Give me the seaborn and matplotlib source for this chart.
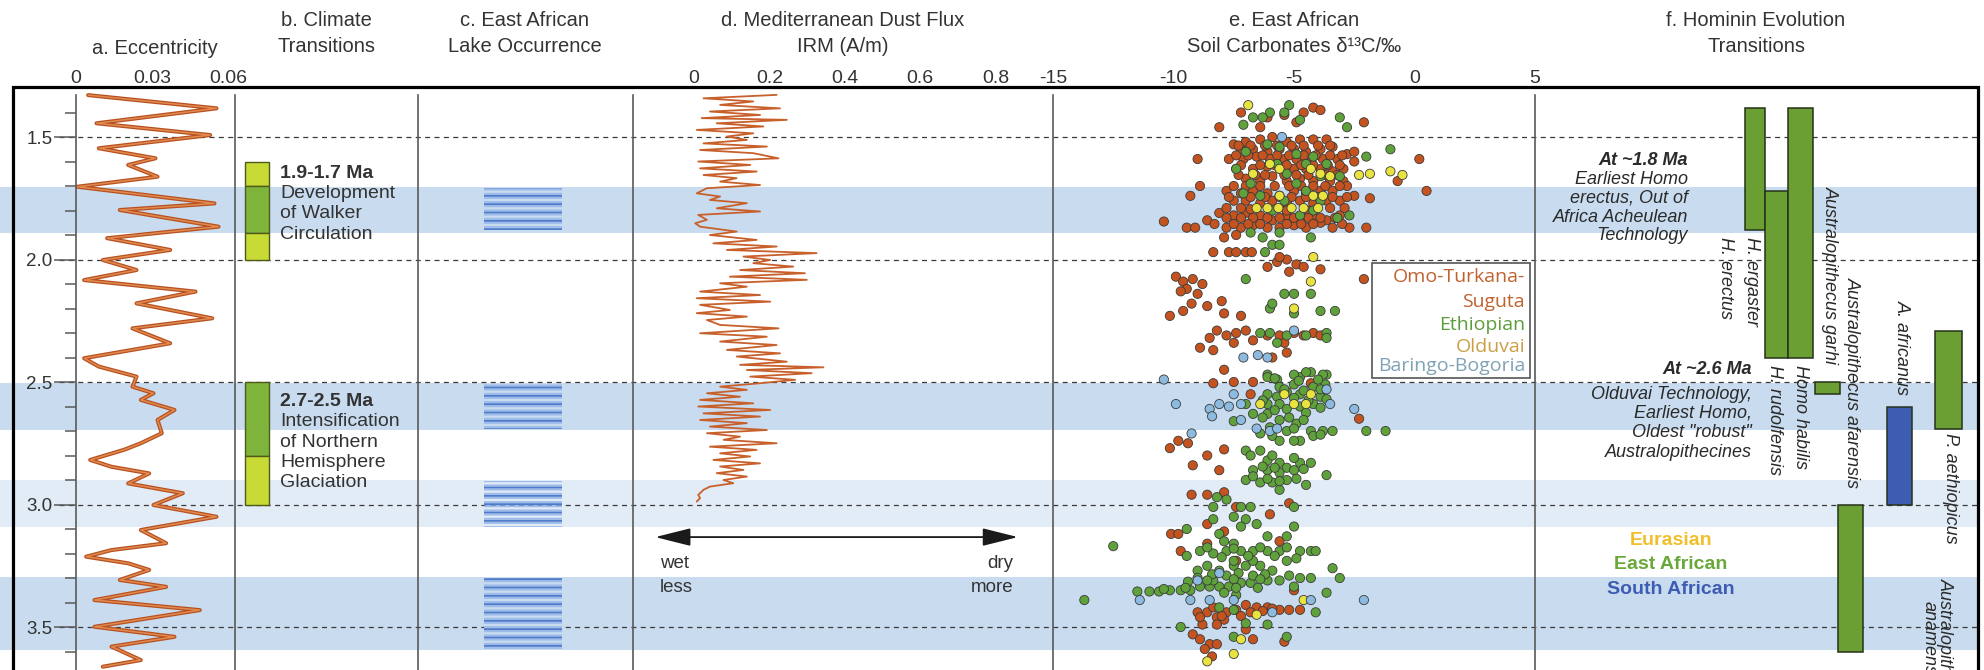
import numpy as np
import pandas as pd
import matplotlib
matplotlib.use("Agg")
import matplotlib.pyplot as plt
import matplotlib.patheffects as pe
import seaborn as sns
from matplotlib.patches import Rectangle
from matplotlib.ticker import MultipleLocator

# ---------------- data ----------------
ecc_age = [1.329, 1.383, 1.444, 1.492, 1.546, 1.587, 1.614, 1.662, 1.703, 1.771, 1.798, 1.866, 1.913,
           1.961, 2.002, 2.043, 2.084, 2.131, 2.179, 2.240, 2.281, 2.342, 2.403, 2.437, 2.478, 2.519,
           2.546, 2.573, 2.614, 2.655, 2.709, 2.750, 2.777, 2.818, 2.846, 2.873, 2.914, 2.954, 3.002,
           3.050, 3.104, 3.158, 3.186, 3.213, 3.240, 3.267, 3.308, 3.336, 3.390, 3.431, 3.499, 3.540,
           3.580, 3.635, 3.662]
ecc_value = [0.0048, 0.0555, 0.0081, 0.0530, 0.0090, 0.0314, 0.0206, 0.0322, 0.0005, 0.0547, 0.0173, 0.0563, 0.0123,
             0.0372, 0.0106, 0.0239, 0.0032, 0.0472, 0.0239, 0.0538, 0.0223, 0.0372, 0.0032, 0.0090, 0.0239, 0.0223,
             0.0306, 0.0256, 0.0389, 0.0322, 0.0339, 0.0256, 0.0189, 0.0056, 0.0140, 0.0289, 0.0206, 0.0422, 0.0306,
             0.0555, 0.0256, 0.0356, 0.0140, 0.0040, 0.0206, 0.0289, 0.0173, 0.0356, 0.0073, 0.0489, 0.0073, 0.0389,
             0.0140, 0.0256, 0.0106]

band_start = [1.704, 2.504, 2.900, 3.296]
band_end = [1.892, 2.696, 3.092, 3.594]
band_shade = ["strong", "strong", "weak", "strong"]
dashed_levels = [1.5, 2.0, 2.5, 3.0, 3.5]

climate_start = [1.60, 1.70, 1.89, 2.50, 2.80]
climate_end = [1.70, 1.89, 2.00, 2.80, 3.00]
climate_phase = ["onset", "peak", "onset", "peak", "onset"]
climate_titles = ["1.9-1.7 Ma", "2.7-2.5 Ma"]
climate_title_age = [1.647, 2.580]
climate_desc = [["Development", "of Walker", "Circulation"],
                ["Intensification", "of Northern", "Hemisphere", "Glaciation"]]

lake_start = [1.708, 2.510, 2.906, 3.300]
lake_end = [1.880, 2.690, 3.090, 3.594]

dust_age = [1.328, 1.342, 1.355, 1.369, 1.383, 1.396, 1.410, 1.423, 1.430, 1.444, 1.457, 1.471, 1.485, 1.498,
            1.512, 1.526, 1.539, 1.553, 1.566, 1.587, 1.600, 1.614, 1.628, 1.641, 1.655, 1.668, 1.682, 1.696,
            1.709, 1.730, 1.743, 1.757, 1.770, 1.791, 1.804, 1.818, 1.838, 1.852, 1.866, 1.886, 1.900, 1.920,
            1.934, 1.947, 1.961, 1.974, 1.988, 2.002, 2.015, 2.029, 2.043, 2.056, 2.070, 2.083, 2.097, 2.111,
            2.131, 2.145, 2.158, 2.172, 2.185, 2.206, 2.219, 2.233, 2.247, 2.267, 2.281, 2.301, 2.315, 2.335,
            2.349, 2.369, 2.383, 2.396, 2.417, 2.430, 2.440, 2.451, 2.464, 2.478, 2.491, 2.505, 2.519, 2.532,
            2.546, 2.560, 2.573, 2.587, 2.600, 2.614, 2.628, 2.641, 2.655, 2.668, 2.682, 2.696, 2.709, 2.723,
            2.736, 2.750, 2.764, 2.777, 2.791, 2.804, 2.818, 2.832, 2.845, 2.859, 2.872, 2.886, 2.900, 2.913,
            2.927, 2.940, 2.961, 2.974, 2.988]
dust_irm = [0.219, 0.025, 0.157, 0.069, 0.228, 0.042, 0.175, 0.020, 0.246, 0.060, 0.184, 0.007, 0.157, 0.087,
            0.140, 0.025, 0.193, 0.016, 0.157, 0.224, 0.011, 0.149, 0.016, 0.166, 0.025, 0.113, 0.069, 0.175,
            0.034, 0.007, 0.069, 0.042, 0.140, 0.060, 0.175, 0.011, 0.034, 0.003, 0.016, 0.113, 0.042, 0.166,
            0.051, 0.219, 0.087, 0.325, 0.131, 0.202, 0.157, 0.263, 0.122, 0.294, 0.095, 0.299, 0.069, 0.140,
            0.016, 0.175, 0.007, 0.202, 0.016, 0.095, 0.007, 0.140, 0.034, 0.069, 0.224, 0.016, 0.193, 0.069,
            0.219, 0.087, 0.228, 0.113, 0.246, 0.122, 0.343, 0.140, 0.312, 0.149, 0.268, 0.175, 0.069, 0.140,
            0.034, 0.122, 0.016, 0.157, 0.011, 0.202, 0.025, 0.175, 0.016, 0.140, 0.042, 0.193, 0.034, 0.122,
            0.078, 0.219, 0.042, 0.166, 0.069, 0.149, 0.051, 0.175, 0.069, 0.131, 0.060, 0.140, 0.078, 0.104,
            0.042, 0.025, 0.011, 0.016, 0.007]

# soil carbonate d13C (permil), age (Ma)
omo_pts = [(-7.2, 1.40), (-8.1, 1.46), (-4.9, 1.44), (-4.2, 1.38), (-3.9, 1.39), (-2.1, 1.44), (-6.1, 1.42),
           (-5.4, 1.41), (-4.6, 1.40), (-6.4, 1.46), (-7.5, 1.53), (-7.0, 1.52), (-6.4, 1.51), (-5.9, 1.50),
           (-5.3, 1.52), (-4.75, 1.51), (-4.2, 1.51), (-3.65, 1.51), (-7.2, 1.55), (-6.7, 1.55), (-6.1, 1.56),
           (-5.6, 1.55), (-5.0, 1.55), (-4.5, 1.56), (-3.9, 1.55), (-3.4, 1.54), (-7.7, 1.59), (-7.1, 1.59),
           (-6.55, 1.58), (-6.0, 1.59), (-5.4, 1.59), (-4.9, 1.59), (-4.3, 1.60), (-3.8, 1.59), (-3.2, 1.59),
           (-2.8, 1.57), (-2.5, 1.60), (-7.4, 1.63), (-6.7, 1.63), (-6.1, 1.62), (-5.6, 1.63), (-5.0, 1.63),
           (-4.5, 1.63), (-3.9, 1.63), (-3.4, 1.64), (-2.95, 1.63), (-7.0, 1.67), (-6.4, 1.68), (-5.9, 1.66),
           (-5.3, 1.68), (-4.75, 1.67), (-4.2, 1.68), (-3.5, 1.68), (-2.95, 1.68), (-9.0, 1.59), (0.2, 1.59),
           (-0.7, 1.68), (-2.5, 1.56), (-8.9, 1.70), (-9.3, 1.74), (-7.8, 1.72), (-7.2, 1.73), (-6.7, 1.72),
           (-6.1, 1.73), (-5.6, 1.74), (-5.0, 1.72), (-4.5, 1.73), (-3.9, 1.72), (-3.4, 1.72), (-2.8, 1.70),
           (-2.5, 1.74), (-1.85, 1.75), (0.5, 1.72), (-7.5, 1.76), (-7.0, 1.76), (-6.4, 1.77), (-5.9, 1.76),
           (-5.3, 1.77), (-4.75, 1.76), (-4.2, 1.77), (-3.65, 1.76), (-3.1, 1.76), (-8.1, 1.81), (-7.5, 1.82),
           (-7.0, 1.81), (-6.4, 1.82), (-5.9, 1.84), (-5.3, 1.82), (-4.75, 1.84), (-4.2, 1.82), (-3.65, 1.84),
           (-3.1, 1.82), (-10.4, 1.845), (-9.45, 1.87), (-9.1, 1.87), (-8.6, 1.84), (-7.8, 1.87), (-7.2, 1.87),
           (-6.7, 1.86), (-6.1, 1.87), (-5.6, 1.87), (-5.0, 1.86), (-4.5, 1.87), (-3.9, 1.85), (-3.4, 1.87),
           (-2.7, 1.87), (-2.0, 1.87), (-7.9, 1.91), (-7.4, 1.90), (-8.35, 1.97), (-7.7, 1.97), (-7.4, 1.97),
           (-7.0, 1.97), (-6.75, 1.97), (-6.1, 2.03), (-5.7, 2.01), (-5.3, 2.00), (-4.9, 2.02), (-5.2, 2.05),
           (-4.6, 2.03), (-3.9, 2.04), (-5.6, 1.99), (-2.1, 2.08), (-9.9, 2.07), (-9.6, 2.09), (-9.2, 2.08),
           (-8.8, 2.10), (-9.45, 2.12), (-9.0, 2.14), (-9.7, 2.13), (-10.15, 2.23), (-9.25, 2.18), (-8.6, 2.19),
           (-8.0, 2.17), (-9.6, 2.21), (-7.2, 2.23), (-7.9, 2.22), (-8.9, 2.36), (-8.5, 2.32), (-8.2, 2.29),
           (-7.8, 2.31), (-7.4, 2.30), (-7.0, 2.29), (-6.7, 2.33), (-7.5, 2.34), (-5.6, 2.31), (-5.0, 2.30),
           (-4.6, 2.31), (-4.2, 2.30), (-3.9, 2.31), (-5.4, 2.34), (-8.35, 2.37), (-7.9, 2.45), (-5.3, 2.38),
           (-5.9, 2.40), (-6.1, 2.31), (-8.35, 2.505), (-7.5, 2.50), (-6.7, 2.50), (-6.8, 2.55), (-4.3, 2.505),
           (-2.3, 2.65), (-10.15, 2.77), (-9.8, 2.74), (-9.4, 2.75), (-7.9, 2.775), (-8.6, 2.80), (-9.2, 2.84),
           (-8.1, 2.86), (-9.25, 2.96), (-8.6, 2.96), (-7.9, 2.95), (-5.2, 2.995), (-7.4, 3.01), (-6.0, 3.04),
           (-10.1, 3.12), (-9.8, 3.12), (-8.6, 3.08), (-7.9, 3.11), (-5.6, 3.15), (-9.7, 3.19), (-8.6, 3.16),
           (-5.0, 3.35), (-9.0, 3.44), (-8.6, 3.44), (-8.2, 3.46), (-7.8, 3.44), (-7.4, 3.43), (-8.35, 3.42),
           (-7.0, 3.41), (-6.55, 3.42), (-6.1, 3.42), (-5.6, 3.43), (-5.2, 3.43), (-4.75, 3.43), (-7.9, 3.47),
           (-8.8, 3.49), (-8.2, 3.49), (-9.2, 3.53), (-8.9, 3.55), (-8.5, 3.57), (-8.2, 3.57), (-5.4, 3.56),
           (-6.7, 3.55), (-8.7, 3.59), (-8.4, 3.62), (-7.0, 3.51), (-7.4, 3.23),
           (-7.3, 1.535), (-6.8, 1.535), (-6.2, 1.535), (-5.7, 1.535), (-5.1, 1.535), (-4.6, 1.535), (-4.0, 1.535),
           (-3.5, 1.535), (-7.4, 1.575), (-6.9, 1.575), (-6.3, 1.575), (-5.7, 1.575), (-5.2, 1.575), (-4.6, 1.575),
           (-4.1, 1.575), (-3.5, 1.575), (-3.0, 1.575), (-7.2, 1.615), (-6.4, 1.615), (-5.8, 1.615), (-5.3, 1.615),
           (-4.7, 1.615), (-4.2, 1.615), (-3.6, 1.615), (-3.1, 1.615), (-7.3, 1.655), (-6.6, 1.655), (-6.2, 1.655),
           (-5.4, 1.655), (-4.9, 1.655), (-4.4, 1.655), (-3.7, 1.655), (-3.2, 1.655), (-7.5, 1.70), (-7.0, 1.70),
           (-6.4, 1.70), (-5.8, 1.70), (-5.2, 1.70), (-4.7, 1.70), (-4.2, 1.70), (-3.7, 1.70), (-3.1, 1.70),
           (-7.7, 1.745), (-6.8, 1.745), (-6.2, 1.745), (-5.6, 1.745), (-5.1, 1.745), (-4.5, 1.745), (-4.0, 1.745),
           (-3.4, 1.745), (-2.8, 1.745), (-7.8, 1.79), (-7.2, 1.79), (-6.8, 1.795), (-5.3, 1.80), (-4.4, 1.80),
           (-3.5, 1.79), (-2.9, 1.79), (-7.8, 1.83), (-7.2, 1.83), (-6.7, 1.83), (-6.1, 1.83), (-5.6, 1.83),
           (-5.0, 1.83), (-4.4, 1.83), (-3.9, 1.83), (-3.3, 1.83), (-8.3, 1.855), (-7.5, 1.855), (-6.9, 1.855),
           (-6.4, 1.855), (-5.3, 1.855), (-4.7, 1.855), (-4.2, 1.855), (-3.0, 1.855),
           (-8.9, 3.46), (-8.0, 3.455), (-7.2, 3.455), (-6.8, 3.44), (-6.3, 3.435), (-5.9, 3.425)]
eth_pts = [(-6.0, 1.40), (-5.2, 1.37), (-2.8, 1.46), (-3.1, 1.42), (-7.1, 1.45), (-6.3, 1.42), (-5.4, 1.40),
           (-6.7, 1.42), (-4.75, 1.43), (-7.0, 1.56), (-5.6, 1.54), (-4.9, 1.57), (-4.2, 1.58), (-6.1, 1.53),
           (-7.4, 1.63), (-5.3, 1.65), (-4.5, 1.61), (-3.65, 1.61), (-3.1, 1.66), (-2.0, 1.58), (-1.0, 1.55),
           (-6.8, 1.69), (-4.9, 1.69), (-5.7, 1.61), (-3.9, 1.66), (-7.1, 1.73), (-6.4, 1.74), (-5.4, 1.76),
           (-4.5, 1.72), (-3.9, 1.76), (-5.9, 1.80), (-4.75, 1.82), (-4.2, 1.80), (-3.2, 1.83), (-2.7, 1.82),
           (-5.6, 1.89), (-6.3, 1.91), (-6.8, 1.89), (-4.3, 1.91), (-5.9, 1.94), (-5.6, 1.94), (-6.2, 1.97),
           (-7.0, 2.08), (-5.4, 2.14), (-5.0, 2.14), (-4.3, 2.14), (-6.0, 2.20), (-5.0, 2.22), (-3.9, 2.21),
           (-3.3, 2.21), (-5.9, 2.18), (-6.4, 2.30), (-6.0, 2.30), (-5.7, 2.34), (-5.3, 2.31), (-4.5, 2.31),
           (-3.65, 2.30), (-3.65, 2.32), (-6.1, 2.47), (-4.75, 2.48), (-4.3, 2.46), (-3.65, 2.47),
           (-6.1, 2.48), (-5.7, 2.49), (-5.0, 2.47), (-4.5, 2.46), (-3.8, 2.47), (-5.6, 2.52), (-5.0, 2.51),
           (-4.2, 2.52), (-3.7, 2.51), (-6.1, 2.55), (-5.7, 2.56), (-5.3, 2.54), (-4.75, 2.55), (-3.9, 2.56),
           (-7.0, 2.59), (-6.1, 2.59), (-5.6, 2.59), (-5.3, 2.61), (-4.75, 2.60), (-4.2, 2.59), (-3.65, 2.57),
           (-6.7, 2.63), (-6.1, 2.63), (-5.6, 2.655), (-4.9, 2.67), (-4.3, 2.70), (-7.5, 2.66), (-6.4, 2.71),
           (-5.9, 2.72), (-5.3, 2.70), (-4.75, 2.74), (-4.2, 2.72), (-3.8, 2.70), (-3.4, 2.70), (-2.0, 2.70),
           (-1.2, 2.70), (-5.6, 2.74), (-5.0, 2.74), (-7.0, 2.78), (-6.4, 2.78), (-6.1, 2.82), (-5.6, 2.83),
           (-5.3, 2.85), (-4.75, 2.83), (-4.3, 2.83), (-6.7, 2.86), (-6.1, 2.86), (-5.6, 2.87), (-5.0, 2.86),
           (-7.0, 2.90), (-6.4, 2.91), (-5.9, 2.91), (-5.3, 2.90), (-4.5, 2.92), (-3.65, 2.88), (-5.6, 2.94),
           (-8.2, 2.97), (-7.8, 2.98), (-8.35, 3.01), (-7.2, 3.01), (-6.8, 3.01), (-5.0, 3.01), (-7.5, 3.05),
           (-7.0, 3.06), (-6.55, 3.08), (-8.35, 3.06), (-9.45, 3.10), (-8.1, 3.12), (-7.2, 3.09), (-5.0, 3.09),
           (-5.3, 3.13), (-6.1, 3.13), (-12.5, 3.17), (-9.45, 3.21), (-8.9, 3.19), (-8.35, 3.20), (-7.8, 3.19),
           (-7.2, 3.19), (-6.7, 3.19), (-6.1, 3.19), (-5.6, 3.19), (-4.75, 3.19), (-4.3, 3.19), (-4.1, 3.19),
           (-7.9, 3.15), (-7.5, 3.16), (-9.0, 3.27), (-8.6, 3.25), (-8.1, 3.27), (-7.5, 3.25), (-7.0, 3.25),
           (-6.4, 3.25), (-5.9, 3.27), (-5.3, 3.23), (-4.75, 3.30), (-4.3, 3.30), (-3.4, 3.26), (-3.1, 3.30),
           (-7.5, 3.23), (-6.7, 3.23), (-11.5, 3.355), (-11.0, 3.355), (-10.6, 3.355), (-10.15, 3.35),
           (-9.7, 3.35), (-9.3, 3.35), (-8.9, 3.335), (-8.5, 3.335), (-8.1, 3.335), (-7.7, 3.335), (-7.2, 3.32),
           (-6.8, 3.32), (-8.35, 3.31), (-7.8, 3.29), (-9.0, 3.30), (-6.7, 3.29), (-6.1, 3.31), (-5.6, 3.31),
           (-5.0, 3.335), (-13.7, 3.39), (-3.65, 3.36), (-4.1, 3.44), (-7.9, 3.36), (-7.4, 3.37), (-9.7, 3.50),
           (-6.1, 3.49), (-5.3, 3.54), (-7.5, 3.54), (-7.0, 3.485), (-8.1, 3.42), (-7.5, 3.43),
           (-5.8, 2.485), (-4.8, 2.495), (-4.0, 2.49), (-5.4, 2.53), (-4.6, 2.535), (-3.9, 2.53), (-6.3, 2.575),
           (-5.0, 2.565), (-4.4, 2.575), (-5.8, 2.615), (-4.5, 2.625), (-3.9, 2.605), (-6.3, 2.645), (-5.2, 2.645),
           (-4.6, 2.655), (-6.0, 2.685), (-5.0, 2.69), (-3.9, 2.715), (-6.8, 2.80), (-5.9, 2.80), (-5.0, 2.81),
           (-6.3, 2.845), (-5.8, 2.85), (-4.6, 2.855), (-6.7, 2.885), (-6.1, 2.895), (-5.6, 2.905), (-4.9, 2.895),
           (-8.6, 3.175), (-7.5, 3.18), (-6.4, 3.175), (-5.3, 3.175), (-8.0, 3.215), (-6.9, 3.21), (-5.8, 3.21),
           (-4.9, 3.22), (-8.4, 3.285), (-7.3, 3.28), (-6.2, 3.285), (-5.2, 3.29), (-9.4, 3.315), (-8.6, 3.31),
           (-7.5, 3.305), (-6.4, 3.305), (-10.4, 3.345), (-9.5, 3.34), (-7.4, 3.34), (-6.5, 3.34)]
old_pts = [(-6.9, 1.37), (-6.0, 1.61), (-5.6, 1.63), (-4.3, 1.63), (-3.9, 1.65), (-6.7, 1.65), (-3.5, 1.66),
           (-2.3, 1.655), (-1.85, 1.65), (-1.0, 1.64), (-0.5, 1.655), (-5.6, 1.74), (-4.2, 1.74), (-3.8, 1.74),
           (-6.55, 1.79), (-6.1, 1.79), (-5.65, 1.79), (-5.1, 1.79), (-4.6, 1.79), (-4.0, 1.79), (-4.2, 1.99),
           (-4.3, 2.09), (-5.0, 2.20), (-5.4, 2.55), (-4.3, 2.55), (-6.4, 2.59), (-5.0, 2.59), (-4.5, 2.59),
           (-4.6, 3.39), (-6.55, 3.45), (-7.2, 3.55), (-7.5, 3.61), (-8.6, 3.64)]
bar_pts = [(-5.5, 1.50), (-5.0, 2.29), (-7.1, 2.40), (-6.5, 2.39), (-6.1, 2.40), (-10.4, 2.49), (-9.9, 2.59),
           (-8.5, 2.61), (-8.1, 2.59), (-7.7, 2.60), (-7.2, 2.59), (-8.4, 2.64), (-7.5, 2.55), (-7.2, 2.655),
           (-6.55, 2.69), (-6.0, 2.70), (-5.7, 2.69), (-3.5, 2.59), (-3.65, 2.53), (-2.5, 2.61), (-9.25, 2.71),
           (-9.0, 3.31), (-8.1, 3.28), (-9.3, 3.39), (-11.4, 3.39), (-7.5, 3.39), (-5.9, 3.44), (-4.3, 3.39),
           (-2.1, 3.39), (-8.5, 3.39)]
basin_names = ["Omo-Turkana-Suguta", "Ethiopian", "Olduvai", "Baringo-Bogoria"]

hominin_species = ["H. ergaster", "H. rudolfensis", "Homo habilis", "Australopithecus garhi",
                   "Australopithecus afarensis", "A. africanus", "P. aethiopicus"]
hominin_first = [1.38, 1.72, 1.38, 2.50, 3.00, 2.60, 2.29]
hominin_last = [1.88, 2.40, 2.40, 2.55, 3.60, 3.00, 2.69]
hominin_region = ["East African", "East African", "East African", "East African",
                  "East African", "South African", "East African"]

# ---------------- layout / style ----------------
FW, FH, TOP = 1984, 670, 87
AGE_TOP, AGE_BOT = 1.2959, 3.6755
C_TXT = "#333333"
C_SEP = "#5a5a5a"
C_CURVE = "#c8602c"

sns.set_style("white")
plt.rcParams["font.family"] = ["Liberation Sans", "DejaVu Sans"]
plt.rcParams["hatch.linewidth"] = 1.4

fig = plt.figure(figsize=(FW / 100, FH / 100), dpi=100)


def panel(x0, x1):
    ax = fig.add_axes([x0 / FW, 0, (x1 - x0) / FW, (FH - TOP) / FH])
    ax.set_facecolor("none")
    ax.set_ylim(AGE_BOT, AGE_TOP)
    for s in ["top", "right", "bottom"]:
        ax.spines[s].set_visible(False)
    ax.spines["left"].set_color(C_SEP)
    ax.spines["left"].set_linewidth(1.2)
    ax.spines["left"].set_bounds(1.33, AGE_BOT)
    ax.set_yticks([])
    ax.set_xlabel("")
    ax.set_ylabel("")
    return ax


def top_ticks(ax, ticks, labels):
    ax.set_xticks(ticks)
    ax.set_xticklabels(labels)
    ax.tick_params(axis="x", top=True, bottom=False, labeltop=True, labelbottom=False,
                   length=0, pad=0, labelsize=14, labelcolor=C_TXT)


# background bands and dashed lines
bg = fig.add_axes([0, 0, 1978 / FW, (FH - TOP) / FH])
bg.set_xlim(0, 1978)
bg.set_ylim(AGE_BOT, AGE_TOP)
bg.axis("off")
shade_col = {"strong": "#c9dcef", "weak": "#e2ecf7"}
for s, e, sh in zip(band_start, band_end, band_shade):
    bg.axhspan(s, e, color=shade_col[sh], lw=0, zorder=0)
bg.hlines(dashed_levels, 59, 1978, colors="#3a3a3a", linestyles=(0, (4, 3.5)), lw=0.9, zorder=1)

# a. eccentricity
ax_a = panel(76, 235)
sns.lineplot(x=ecc_value, y=ecc_age, sort=False, estimator=None, color="#e08a50", lw=1.1, ax=ax_a)
for ln in ax_a.lines:
    ln.set_path_effects([pe.Stroke(linewidth=2.9, foreground="#b8501f"), pe.Normal()])
    ln.set_solid_joinstyle("round")
ax_a.set_xlim(0, 0.0628)
ax_a.set_ylim(AGE_BOT, AGE_TOP)
ax_a.set_yticks(dashed_levels)
ax_a.set_yticklabels([f"{v:.1f}" for v in dashed_levels])
ax_a.yaxis.set_minor_locator(MultipleLocator(0.1))
ax_a.tick_params(axis="y", which="major", left=True, length=16, width=1.1, color=C_SEP,
                 labelsize=13.5, labelcolor=C_TXT, pad=1)
ax_a.tick_params(axis="y", which="minor", left=True, length=8, width=1.1, color=C_SEP)
top_ticks(ax_a, [0, 0.03, 0.06], ["0", "0.03", "0.06"])
ax_a.set_xlabel("")
ax_a.set_ylabel("")

# b. climate transitions
ax_b = panel(235, 418)
ax_b.set_xlim(0, 1)
ax_b.set_xticks([])
phase_col = {"peak": "#7eb43c", "onset": "#c8da36"}
ax_b.bar([0.12] * len(climate_start), np.array(climate_end) - np.array(climate_start),
         bottom=climate_start, width=0.131, color=[phase_col[p] for p in climate_phase],
         edgecolor="#4d5a1c", lw=1.0, zorder=3)
for t, ya, lines in zip(climate_titles, climate_title_age, climate_desc):
    ax_b.text(0.246, ya, t, fontsize=14, fontweight="bold", color=C_TXT, va="center", ha="left")
    for i, ln in enumerate(lines):
        ax_b.text(0.246, ya + (i + 1) * 0.083, ln, fontsize=14, color=C_TXT, va="center", ha="left")

# c. lake occurrence (striped blocks)
ax_c = panel(418, 633)
ax_c.set_xlim(0, 1)
ax_c.set_xticks([])
lake_h = np.array(lake_end) - np.array(lake_start)
ax_c.bar([0.488] * len(lake_start), lake_h, bottom=lake_start, width=0.363, color="none",
         edgecolor="#9dbcea", hatch="----", lw=0, zorder=3)
ax_c.bar([0.488] * len(lake_start), lake_h, bottom=lake_start, width=0.363, color="none",
         edgecolor="#4f7cca", hatch="--", lw=0, zorder=4)

# d. dust flux
ax_d = panel(633, 1053)
sns.lineplot(x=dust_irm, y=dust_age, sort=False, estimator=None, color=C_CURVE, lw=1.3, ax=ax_d)
ax_d.set_xlim(-0.162, 0.952)
ax_d.set_ylim(AGE_BOT, AGE_TOP)
top_ticks(ax_d, [0, 0.2, 0.4, 0.6, 0.8], ["0", "0.2", "0.4", "0.6", "0.8"])
ax_d.set_xlabel("")
ax_d.set_ylabel("")
ax_d.annotate("", xy=(0.859, 3.133), xytext=(-0.103, 3.133),
              arrowprops=dict(arrowstyle="<|-|>,head_length=2.2,head_width=0.55", color="#1a1a1a",
                              lw=1.3, shrinkA=0, shrinkB=0))
ax_d.text(-0.09, 3.24, "wet", fontsize=13.5, color=C_TXT, ha="left", va="center")
ax_d.text(-0.09, 3.337, "less", fontsize=13.5, color=C_TXT, ha="left", va="center")
ax_d.text(0.846, 3.24, "dry", fontsize=13.5, color=C_TXT, ha="right", va="center")
ax_d.text(0.846, 3.337, "more", fontsize=13.5, color=C_TXT, ha="right", va="center")

# e. soil carbonates
ax_e = panel(1053, 1535)
rows = []
for name, pts in zip(basin_names, [omo_pts, eth_pts, old_pts, bar_pts]):
    for d, a in pts:
        rows.append((d, a, name))
carb = pd.DataFrame(rows, columns=["d13C", "age", "basin"])
basin_col = {"Omo-Turkana-Suguta": "#c4531f", "Ethiopian": "#5fa23b",
             "Olduvai": "#e8e33f", "Baringo-Bogoria": "#8dbbe0"}
sns.scatterplot(data=carb, x="d13C", y="age", hue="basin", palette=basin_col, s=44,
                edgecolor="#3a3a3a", linewidth=0.6, legend=False, ax=ax_e, zorder=3)
ax_e.set_xlim(-15, 5)
ax_e.set_ylim(AGE_BOT, AGE_TOP)
top_ticks(ax_e, [-15, -10, -5, 0, 5], ["-15", "-10", "-5", "0", "5"])
ax_e.set_xlabel("")
ax_e.set_ylabel("")
ax_e.add_patch(Rectangle((-1.76, 2.014), 6.55, 0.47, fill=False, edgecolor="#555555", lw=1.2, zorder=4))
legend_txt_col = {"Omo-Turkana-Suguta": "#c0622e", "Ethiopian": "#5d9d3c",
                  "Olduvai": "#c9a046", "Baringo-Bogoria": "#7fa2b6"}
leg_lines = [("Omo-Turkana-", "Omo-Turkana-Suguta", 2.071), ("Suguta", "Omo-Turkana-Suguta", 2.173),
             ("Ethiopian", "Ethiopian", 2.267), ("Olduvai", "Olduvai", 2.357),
             ("Baringo-Bogoria", "Baringo-Bogoria", 2.435)]
for txt, key, ya in leg_lines:
    ax_e.text(4.59, ya, txt, fontsize=14, color=legend_txt_col[key], ha="right", va="center",
              family=["Open Sans", "DejaVu Sans"], zorder=5)

# f. hominin evolution
ax_f = panel(1535, 1978)
ax_f.set_xlim(0, 18.3)
ax_f.set_xticks([])
lane_x = [9.09, 9.98, 10.97, 12.09, 13.04, 15.06, 17.09]
lane_w = [0.83, 0.95, 1.03, 1.03, 1.03, 1.03, 1.10]
region_col = {"East African": "#6b9f33", "South African": "#3c5db0", "Eurasian": "#f2c12e"}
ax_f.bar(lane_x, np.array(hominin_last) - np.array(hominin_first), bottom=hominin_first, width=lane_w,
         color=[region_col[r] for r in hominin_region], edgecolor="#25321a", lw=1.1, zorder=3)
species_label_x = [8.93, 9.88, 10.95, 12.19, 13.10, 15.17, 17.15]
species_label_top = [1.91, 2.43, 2.43, 1.70, 2.07, 2.165, 2.71]
for name, lx, ly in zip(hominin_species, species_label_x, species_label_top):
    ax_f.text(lx, ly, name, rotation=-90, ha="center", va="top", fontsize=13, style="italic", color="#2a2a2a")
ax_f.text(7.85, 1.91, "H. erectus", rotation=-90, ha="center", va="top", fontsize=13,
          style="italic", color="#2a2a2a")
ax_f.text(16.63, 3.30, "Australopithecus\nanamensis", rotation=-90, ha="center", va="top", fontsize=13,
          style="italic", color="#2a2a2a", multialignment="center", linespacing=0.95)

notes_18 = ["At ~1.8 Ma", "Earliest Homo", "erectus, Out of", "Africa Acheulean", "Technology"]
notes_18_age = [1.594, 1.675, 1.749, 1.827, 1.900]
notes_26 = ["At ~2.6 Ma", "Olduvai Technology,", "Earliest Homo,", "Oldest \"robust\"", "Australopithecines"]
notes_26_age = [2.451, 2.553, 2.627, 2.708, 2.786]
for notes, ages, xr in [(notes_18, notes_18_age, 6.32), (notes_26, notes_26_age, 8.97)]:
    for i, (t, a) in enumerate(zip(notes, ages)):
        ax_f.text(xr, a, t, ha="right", va="center", fontsize=13, style="italic",
                  fontweight="bold" if i == 0 else "normal", color="#2a2a2a")
for t, a in zip(["Eurasian", "East African", "South African"], [3.145, 3.243, 3.345]):
    ax_f.text(5.62, a, t, ha="center", va="center", fontsize=14, fontweight="bold",
              color={"Eurasian": "#f0bf2c", "East African": "#6aa83a", "South African": "#3d5cb3"}[t])


# titles
def title(xc, lines):
    ys = [20, 47] if len(lines) == 2 else [49]
    for ln, y in zip(lines, ys):
        fig.text(xc / FW, 1 - y / FH, ln, ha="center", va="center", fontsize=14.5, color=C_TXT)


title(155, ["a. Eccentricity"])
title(326, ["b. Climate", "Transitions"])
title(525, ["c. East African", "Lake Occurrence"])
title(843, ["d. Mediterranean Dust Flux", "IRM (A/m)"])
title(1294, ["e. East African", "Soil Carbonates \u03b4\u00b9\u00b3C/\u2030"])
title(1756, ["f. Hominin Evolution", "Transitions"])

# outer frame
fig.add_artist(Rectangle((13 / FW, -0.05), (1978 - 13) / FW, 0.05 + (FH - TOP) / FH, fill=False,
                         edgecolor="black", lw=2.3, transform=fig.transFigure, clip_on=False, zorder=10))

fig.savefig("out.png", dpi=100)
